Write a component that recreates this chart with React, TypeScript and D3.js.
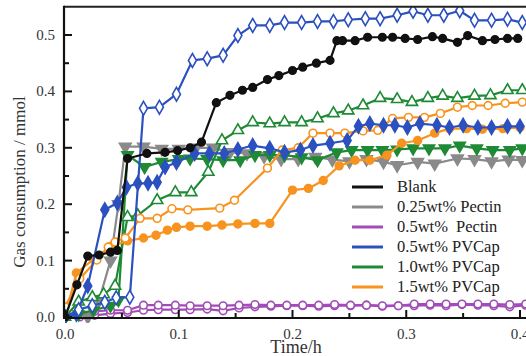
import React from "react";
import * as d3 from "d3";

type P = [number, number];

const yTicks = [0, 0.1, 0.2, 0.3, 0.4, 0.5];
const xTicks = [0, 0.1, 0.2, 0.3, 0.4];
const yTitle = "Gas consumption / mmol";
const xTitle = "Time/h";
const legendLabels = ["Blank", "0.25wt% Pectin", "0.5wt%  Pectin", "0.5wt% PVCap", "1.0wt% PVCap", "1.5wt% PVCap"];

const blank: P[] = [[0,0],[0.0105,0.057],[0.02,0.108],[0.03,0.11],[0.04,0.115],[0.046,0.118],[0.055,0.281],[0.072,0.29],[0.088,0.292],[0.099,0.295],[0.11,0.3],[0.12,0.31],[0.133,0.38],[0.145,0.393],[0.156,0.402],[0.165,0.407],[0.178,0.421],[0.188,0.428],[0.2,0.437],[0.209,0.443],[0.221,0.45],[0.233,0.455],[0.239,0.49],[0.244,0.49],[0.255,0.49],[0.266,0.496],[0.279,0.496],[0.288,0.496],[0.299,0.494],[0.31,0.492],[0.323,0.497],[0.332,0.494],[0.345,0.487],[0.354,0.499],[0.367,0.49],[0.378,0.492],[0.389,0.494],[0.398,0.494]];
const pectin025: P[] = [[0.02,0],[0.03,0.03],[0.04,0.1],[0.047,0.2],[0.053,0.302],[0.069,0.302],[0.085,0.298],[0.1,0.298],[0.115,0.3],[0.13,0.3],[0.145,0.292],[0.16,0.29],[0.175,0.285],[0.19,0.28],[0.205,0.28],[0.22,0.284],[0.235,0.279],[0.25,0.276],[0.265,0.28],[0.28,0.275],[0.292,0.269],[0.31,0.275],[0.325,0.272],[0.345,0.281],[0.36,0.28],[0.375,0.276],[0.39,0.279],[0.402,0.278]];
const pectin05a: P[] = [[0,0],[0.013,0.008],[0.026,0.01],[0.04,0.012],[0.055,0.012],[0.069,0.021],[0.082,0.021],[0.097,0.021],[0.11,0.02],[0.125,0.02],[0.139,0.02],[0.153,0.021],[0.167,0.022],[0.181,0.021],[0.195,0.021],[0.209,0.021],[0.223,0.021],[0.237,0.022],[0.251,0.021],[0.265,0.021],[0.279,0.02],[0.293,0.02],[0.307,0.023],[0.321,0.023],[0.335,0.023],[0.349,0.023],[0.363,0.023],[0.377,0.023],[0.391,0.022],[0.405,0.023]];
const pectin05b: P[] = [[0,0],[0.013,0],[0.026,0.003],[0.04,0.006],[0.055,0.008],[0.069,0.012],[0.082,0.013],[0.097,0.013],[0.11,0.013],[0.125,0.014],[0.139,0.011],[0.153,0.016],[0.167,0.018],[0.181,0.019],[0.195,0.02],[0.209,0.02],[0.223,0.019],[0.237,0.02],[0.251,0.02],[0.265,0.021],[0.279,0.019],[0.293,0.02],[0.307,0.02],[0.321,0.021],[0.335,0.02],[0.349,0.022],[0.363,0.021],[0.377,0.02],[0.391,0.018],[0.405,0.021]];
const pvcap05open: P[] = [[0,0],[0.012,0.013],[0.024,0.02],[0.035,0.026],[0.045,0.034],[0.057,0.035],[0.069,0.37],[0.083,0.372],[0.098,0.395],[0.112,0.455],[0.125,0.458],[0.139,0.464],[0.152,0.499],[0.165,0.517],[0.18,0.517],[0.193,0.522],[0.208,0.522],[0.222,0.524],[0.236,0.524],[0.249,0.527],[0.264,0.529],[0.277,0.529],[0.292,0.535],[0.306,0.542],[0.319,0.535],[0.333,0.535],[0.347,0.543],[0.36,0.526],[0.375,0.526],[0.389,0.528],[0.402,0.522]];
const pvcap05filled: P[] = [[0,0],[0.01,0.005],[0.02,0.055],[0.035,0.19],[0.046,0.202],[0.054,0.23],[0.064,0.237],[0.073,0.237],[0.081,0.239],[0.088,0.266],[0.098,0.274],[0.114,0.29],[0.127,0.29],[0.14,0.29],[0.152,0.297],[0.165,0.304],[0.18,0.299],[0.193,0.292],[0.207,0.296],[0.218,0.304],[0.233,0.308],[0.248,0.313],[0.258,0.338],[0.268,0.343],[0.28,0.34],[0.29,0.34],[0.301,0.336],[0.312,0.343],[0.327,0.34],[0.338,0.336],[0.35,0.34],[0.363,0.336],[0.375,0.336],[0.389,0.338],[0.4,0.338]];
const pvcap10open: P[] = [[0,0],[0.012,0.027],[0.024,0.035],[0.034,0.04],[0.044,0.055],[0.055,0.177],[0.064,0.18],[0.081,0.207],[0.097,0.221],[0.111,0.221],[0.126,0.257],[0.138,0.313],[0.152,0.331],[0.165,0.345],[0.18,0.343],[0.193,0.345],[0.208,0.345],[0.222,0.352],[0.236,0.361],[0.249,0.366],[0.262,0.375],[0.277,0.388],[0.292,0.386],[0.305,0.381],[0.319,0.388],[0.332,0.392],[0.345,0.388],[0.36,0.392],[0.374,0.393],[0.389,0.402],[0.402,0.402]];
const pvcap10filled: P[] = [[0,0],[0.012,0.005],[0.025,0.012],[0.04,0.02],[0.047,0.03],[0.055,0.287],[0.07,0.266],[0.085,0.275],[0.1,0.28],[0.11,0.281],[0.125,0.28],[0.139,0.278],[0.154,0.278],[0.167,0.287],[0.18,0.287],[0.193,0.287],[0.208,0.283],[0.222,0.278],[0.239,0.292],[0.252,0.296],[0.266,0.296],[0.279,0.296],[0.292,0.297],[0.306,0.299],[0.32,0.299],[0.334,0.299],[0.347,0.304],[0.362,0.299],[0.376,0.296],[0.391,0.296],[0.402,0.299]];
const pvcap15open: P[] = [[0,0.018],[0.013,0.068],[0.028,0.101],[0.038,0.124],[0.044,0.133],[0.053,0.14],[0.066,0.175],[0.081,0.175],[0.094,0.192],[0.108,0.19],[0.136,0.193],[0.149,0.207],[0.178,0.264],[0.191,0.296],[0.205,0.3],[0.218,0.326],[0.233,0.326],[0.246,0.326],[0.262,0.33],[0.275,0.331],[0.288,0.352],[0.302,0.354],[0.316,0.354],[0.33,0.361],[0.345,0.372],[0.358,0.375],[0.372,0.375],[0.387,0.379],[0.402,0.381]];
const pvcap15filled: P[] = [[0,0],[0.01,0.078],[0.025,0.102],[0.04,0.125],[0.055,0.135],[0.069,0.14],[0.08,0.145],[0.09,0.154],[0.098,0.159],[0.11,0.161],[0.125,0.161],[0.138,0.163],[0.152,0.165],[0.167,0.166],[0.18,0.166],[0.2,0.225],[0.214,0.228],[0.227,0.242],[0.241,0.268],[0.255,0.278],[0.268,0.278],[0.283,0.287],[0.296,0.308],[0.31,0.313],[0.325,0.326],[0.338,0.334],[0.353,0.334],[0.367,0.333],[0.385,0.334],[0.4,0.336]];

const BLACK = "#111111";
const GRAY = "#8a8a8a";
const PURPLE = "#a04db5";
const BLUE = "#2b50bf";
const GREEN = "#1f8a35";
const ORANGE = "#f7931e";
const legendColors = [BLACK, GRAY, PURPLE, BLUE, GREEN, ORANGE];

const W = 526, H = 356;
const X0 = 65, Y0 = 317;
const x = d3.scaleLinear().domain([0, 0.41]).range([X0, X0 + 0.41 * 1137.5]);
const y = d3.scaleLinear().domain([0, 0.55]).range([Y0, Y0 - 0.55 * 564]);
const FONT = '"Liberation Serif", "Times New Roman", Times, serif';
const tStyle: React.CSSProperties = { fontFamily: FONT };

type S = { data: P[]; color: string; shape: "circle" | "diamond" | "tri" | "tridown"; open: boolean; size: number };

const series: S[] = [
  { data: pectin05b, color: PURPLE, shape: "circle", open: true, size: 45 },
  { data: pectin05a, color: PURPLE, shape: "circle", open: true, size: 45 },
  { data: pectin025, color: GRAY, shape: "tridown", open: false, size: 60 },
  { data: pvcap10filled, color: GREEN, shape: "tridown", open: false, size: 55 },
  { data: pvcap10open, color: GREEN, shape: "tri", open: true, size: 55 },
  { data: pvcap15filled, color: ORANGE, shape: "circle", open: false, size: 48 },
  { data: pvcap15open, color: ORANGE, shape: "circle", open: true, size: 48 },
  { data: pvcap05filled, color: BLUE, shape: "diamond", open: false, size: 55 },
  { data: pvcap05open, color: BLUE, shape: "diamond", open: true, size: 55 },
  { data: blank, color: BLACK, shape: "circle", open: false, size: 45 },
];

function symPath(s: S) {
  const t = s.shape === "circle" ? d3.symbolCircle : s.shape === "diamond" ? d3.symbolDiamond : d3.symbolTriangle;
  return d3.symbol().type(t).size(s.size)() as string;
}

export default function App() {
  const line = d3.line<P>().x((d) => x(d[0])).y((d) => y(d[1]));
  const yMinor = d3.range(0.05, 0.55, 0.1);
  const xMinor = d3.range(0.05, 0.41, 0.1);
  const top = y(0.55);
  const right = x(0.41);
  return (
    <svg width={W} height={H} style={{ position: "absolute", left: 0, top: 0, background: "#fff" }}>
      <defs>
        <clipPath id="plot">
          <rect x={X0} y={top} width={right - X0} height={Y0 - top + 6} />
        </clipPath>
      </defs>
      <g clipPath="url(#plot)">
        {series.map((s, i) => (
          <g key={i}>
            <path d={line(s.data) as string} fill="none" stroke={s.color} strokeWidth={2.2} strokeLinejoin="round" />
            {s.data.map((d, j) => (
              <path
                key={j}
                d={symPath(s)}
                transform={`translate(${x(d[0])},${y(d[1])})${s.shape === "tridown" ? " rotate(180)" : ""}`}
                fill={s.open ? "#fff" : s.color}
                stroke={s.color}
                strokeWidth={1.6}
              />
            ))}
          </g>
        ))}
      </g>
      <line x1={X0 - 1} x2={right} y1={top} y2={top} stroke="#222" strokeWidth={2} />
      <line x1={X0 - 1} x2={X0 - 1} y1={top - 1} y2={Y0 + 1} stroke="#111" strokeWidth={2.2} />
      <line x1={X0 - 2} x2={right} y1={Y0 + 1} y2={Y0 + 1} stroke="#111" strokeWidth={2.2} />
      {yTicks.map((t) => (
        <g key={"y" + t}>
          <line x1={X0} x2={X0 + 7} y1={y(t)} y2={y(t)} stroke="#111" strokeWidth={2} />
          <text x={X0 - 10} y={y(t) + 5} textAnchor="end" fontSize={15} fill="#333" style={tStyle}>{t.toFixed(1)}</text>
        </g>
      ))}
      {yMinor.map((t) => (
        <line key={"ym" + t} x1={X0} x2={X0 + 4} y1={y(t)} y2={y(t)} stroke="#111" strokeWidth={2} />
      ))}
      {xTicks.map((t) => (
        <g key={"x" + t}>
          <line x1={x(t)} x2={x(t)} y1={Y0} y2={Y0 - 7} stroke="#111" strokeWidth={2} />
          <text x={x(t)} y={339} textAnchor="middle" fontSize={15} fill="#333" style={tStyle}>{t.toFixed(1)}</text>
        </g>
      ))}
      {xMinor.map((t) => (
        <line key={"xm" + t} x1={x(t)} x2={x(t)} y1={Y0} y2={Y0 - 4} stroke="#111" strokeWidth={2} />
      ))}
      <text x={296} y={353} textAnchor="middle" fontSize={18} fill="#333" style={tStyle}>{xTitle}</text>
      <text transform="translate(25,182) rotate(-90)" textAnchor="middle" fontSize={17} fill="#333" style={tStyle}>{yTitle}</text>
      {legendLabels.map((lab, i) => (
        <g key={lab} transform={`translate(0,${187 + i * 20})`}>
          <line x1={352} x2={383} y1={0} y2={0} stroke={legendColors[i]} strokeWidth={3} />
          <text x={397} y={5} fontSize={16.5} fill="#222" style={{ ...tStyle, whiteSpace: "pre" }}>{lab}</text>
        </g>
      ))}
    </svg>
  );
}
